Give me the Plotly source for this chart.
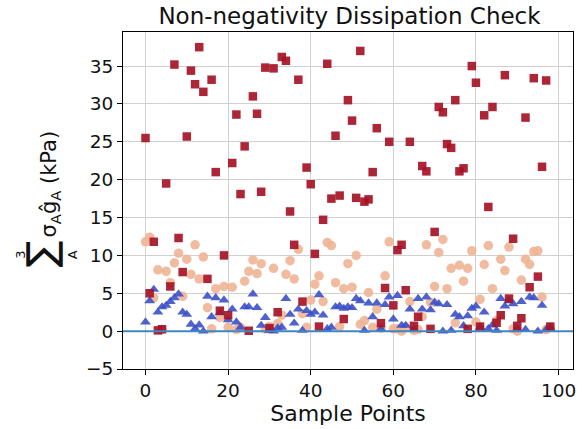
import plotly.graph_objects as go

# ---------------- data ----------------
sample_idx = list(range(99))

dissip_total = [25.5, 5.0, 11.8, 0.1, 0.25, 19.5, 5.9, 35.2, 12.3, 7.8,
                25.7, 34.4, 32.6, 37.5, 31.6, 6.9, 33.2, 21.0, 2.7, 10.0,
                2.1, 22.2, 28.6, 18.1, 24.4, 0.05, 31.0, 28.7, 18.4, 34.8,
                0.4, 34.7, 2.5, 36.2, 35.7, 15.8, 11.4, 33.2, 3.9, 21.6,
                19.4, 10.2, 0.6, 14.7, 35.3, 17.5, 25.8, 17.9, 1.6, 30.5,
                27.8, 17.6, 37.0, 17.1, 17.4, 21.0, 26.8, 1.05, 5.7, 25.0,
                3.4, 10.7, 11.4, 5.4, 25.0, 0.7, 1.9, 21.8, 21.1, 0.3,
                13.1, 29.6, 28.9, 24.7, 24.2, 30.5, 21.1, 21.5, 0.3, 35.0,
                32.8, 0.6, 28.5, 16.4, 29.6, 1.1, 2.1, 33.8, 4.3, 12.2,
                0.7, 1.7, 28.2, 5.8, 33.4, 7.2, 21.7, 33.1, 0.6]

dissip_mid = [11.8, 12.4, 4.4, 8.1, 0.2, 7.9, 6.4, 9.0, 10.3, 4.6,
              9.5, 7.5, 11.4, 6.9, 9.8, 3.1, 0.3, 5.6, 1.8, 5.9,
              0.5, 5.8, 0.2, 0.5, 6.6, 7.9, 9.4, 7.6, 8.9, 0.3,
              0.6, 8.3, 1.0, 2.1, 7.5, 9.3, 6.9, 10.8, 2.3, 0.5,
              4.1, 6.2, 7.3, 3.9, 11.7, 11.3, 6.4, 0.6, 5.6, 8.9,
              5.8, 10.0, 0.9, 1.4, 5.1, 0.5, 2.9, 0.4, 7.3, 11.8,
              0.3, 0.3, 0.0, 0.5, 3.9, 0.1, 0.2, 1.9, 11.4, 3.8,
              5.9, 10.4, 12.1, 5.6, 8.3, 1.1, 8.7, 6.6, 8.3, 10.6,
              1.2, 4.2, 8.8, 11.3, 5.6, 1.4, 9.5, 8.0, 11.1, 0.3,
              0.0, 6.75, 9.5, 8.8, 10.5, 10.6, 4.5, 0.2, 0.5]

dissip_low = [1.2, 4.0, 5.5, 2.5, 3.2, 3.4, 3.9, 4.4, 4.9, 2.5,
              2.2, 0.9, 0.3, 0.8, 0.0, 4.6, 1.9, 4.4, 2.4, 4.1,
              1.5, 2.9, 1.2, 0.5, 3.2, 3.2, 4.9, 3.1, 0.75, 1.8,
              0.1, 0.0, 0.4, 0.5, 4.3, 2.2, 1.05, 2.9, 0.1, 2.7,
              2.2, 2.5, 4.8, 2.1, 0.3, 0.5, 3.2, 3.3, 3.0, 3.2,
              3.1, 4.3, 4.0, 0.1, 3.7, 1.9, 3.7, 0.3, 3.5, 4.5,
              1.6, 4.7, 0.75, 0.75, 2.9, 0.2, 4.3, 2.9, 4.5, 2.8,
              3.8, 3.6, 0.0, 3.5, 0.1, 2.2, 1.9, 0.7, 2.0, 3.0,
              3.3, 0.5, 2.5, 0.3, 0.8, 0.1, 4.3, 3.3, 4.0, 3.6,
              0.3, 3.9, 0.2, 4.5, 4.4, 0.0, 3.4, 0.2, 0.4]

x_ticks = [0, 20, 40, 60, 80, 100]
y_ticks = [-5, 0, 5, 10, 15, 20, 25, 30, 35]
x_range = [-5.45, 103.5]
y_range = [-5, 39.5]
zero_level = [0, 0]

# ---------------- figure ----------------
W, H = 583, 429
L, R, T, B = 123, 7, 32, 60
pw, ph = W - L - R, H - T - B

def px_x(px):
    return (px - L) / pw

def px_y(py):
    return (H - B - py) / ph

FONT = "DejaVu Sans"
TXT = "#111111"

fig = go.Figure()
fig.add_trace(go.Scatter(
    x=sample_idx, y=dissip_mid, mode="markers",
    marker=dict(symbol="circle", size=9.5, color="rgba(240,180,150,0.9)", line=dict(width=0)),
    showlegend=False, hoverinfo="skip"))
fig.add_trace(go.Scatter(
    x=sample_idx, y=dissip_low, mode="markers",
    marker=dict(symbol="triangle-up", size=9.5, color="rgba(59,80,200,0.9)", line=dict(width=0)),
    showlegend=False, hoverinfo="skip"))
fig.add_trace(go.Scatter(
    x=sample_idx, y=dissip_total, mode="markers",
    marker=dict(symbol="square", size=8.5, color="rgba(165,20,38,0.92)", line=dict(width=0)),
    showlegend=False, hoverinfo="skip"))
fig.add_trace(go.Scatter(
    x=x_range, y=zero_level, mode="lines",
    line=dict(color="#3f86c4", width=2),
    showlegend=False, hoverinfo="skip"))

axis_common = dict(
    showgrid=True, gridcolor="#d0d0d0", gridwidth=1,
    showline=True, linecolor="black", linewidth=1, mirror=True,
    ticks="outside", ticklen=5, tickcolor="black", tickwidth=1,
    zeroline=False,
    tickfont=dict(family=FONT, size=18.5, color=TXT),
)

fig.update_layout(
    width=W, height=H,
    margin=dict(l=L, r=R, t=T, b=B),
    paper_bgcolor="white", plot_bgcolor="white",
    title=dict(text="Non-negativity Dissipation Check",
               font=dict(family=FONT, size=23, color=TXT),
               x=(L + pw / 2) / W, xanchor="center",
               y=1 - 16 / H, yanchor="middle"),
    xaxis=dict(range=x_range, tickvals=x_ticks,
               title=dict(text="Sample Points", font=dict(family=FONT, size=22, color=TXT),
                          standoff=2),
               **axis_common),
    yaxis=dict(range=y_range, tickvals=y_ticks, **axis_common),
)

# y-axis label built from rotated text pieces
fig.add_annotation(xref="paper", yref="paper", x=px_x(50), y=px_y(184),
                   text="σ<sub>A</sub>ĝ<sub>A</sub> (kPa)", textangle=-90,
                   showarrow=False, font=dict(family=FONT, size=21, color=TXT),
                   xanchor="center", yanchor="middle")
fig.add_annotation(xref="paper", yref="paper", x=px_x(40), y=px_y(254),
                   text="∑", textangle=-90,
                   showarrow=False, font=dict(family=FONT, size=40, color=TXT),
                   xanchor="center", yanchor="middle")
fig.add_annotation(xref="paper", yref="paper", x=px_x(19), y=px_y(255),
                   text="3", textangle=-90,
                   showarrow=False, font=dict(family=FONT, size=13, color=TXT),
                   xanchor="center", yanchor="middle")
fig.add_annotation(xref="paper", yref="paper", x=px_x(72), y=px_y(255),
                   text="A", textangle=-90,
                   showarrow=False, font=dict(family=FONT, size=13, color=TXT),
                   xanchor="center", yanchor="middle")

fig.write_html("out.html")
